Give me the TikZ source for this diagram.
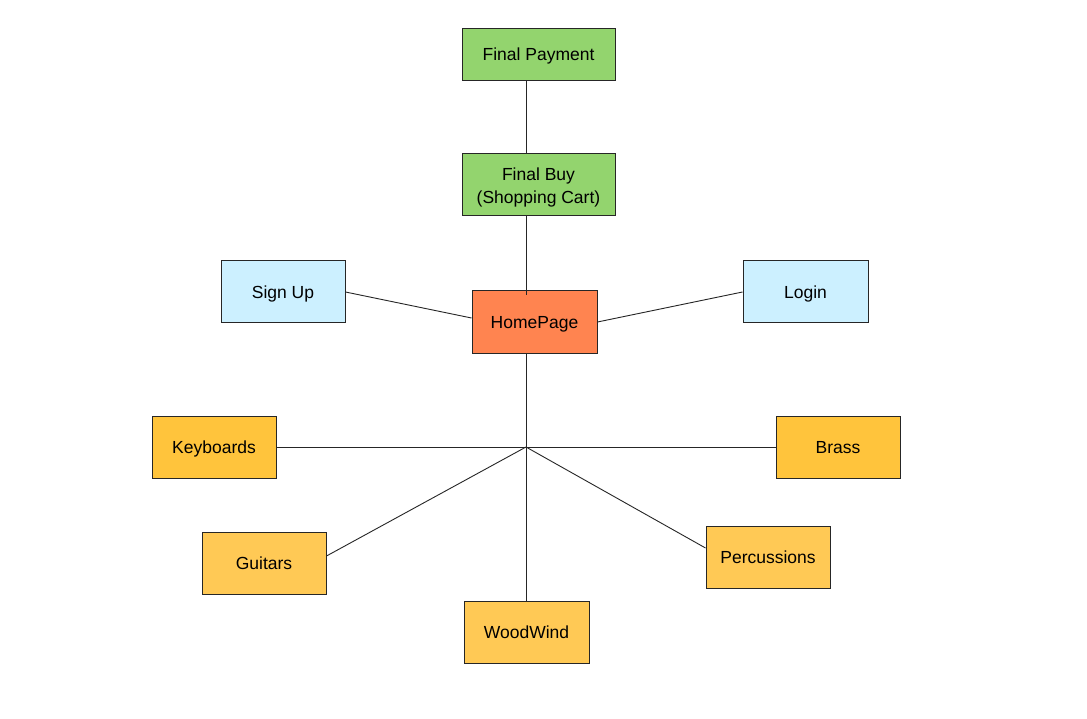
\documentclass[tikz,border=0pt]{standalone}
\usepackage{fontspec}
\setmainfont{Liberation Sans}
\newcommand{\lbl}[1]{\raisebox{-6pt}[0pt][0pt]{#1}}
\begin{document}
\begin{tikzpicture}[x=1pt,y=-1pt,
  box/.style={draw=black!85,line width=1pt,rectangle,inner sep=0pt,minimum width=124pt,minimum height=62pt,font=\fontsize{17.5}{23}\selectfont,align=center},
  green/.style={box,fill=greenc,minimum width=153pt},
  blue/.style={box,fill=bluec},
  orange/.style={box,fill=orangec},
  yellowa/.style={box,fill=yellowc},
  yellowb/.style={box,fill=yellowd},
  link/.style={draw=black!85,line width=0.9pt}]
\definecolor{greenc}{HTML}{93D46E}
\definecolor{bluec}{HTML}{CCF0FF}
\definecolor{orangec}{HTML}{FF8450}
\definecolor{yellowc}{HTML}{FFC43C}
\definecolor{yellowd}{HTML}{FFC955}
\useasboundingbox[fill=white] (0,0) rectangle (1087,719);
\node[green,minimum height=52pt] (fp) at (538.5,55) {\lbl{Final Payment}};
\node[green] (fb) at (538.5,185) {\raisebox{4pt}[0pt][0pt]{\begin{tabular}[t]{@{}c@{}}Final Buy\\(Shopping Cart)\end{tabular}}};
\node[blue] (su) at (283,292) {\lbl{Sign Up}};
\node[orange,minimum width=125pt] (home) at (534.5,322) {\lbl{HomePage}};
\node[blue,minimum width=125pt] (lo) at (805.5,292) {\lbl{Login}};
\node[yellowa] (kb) at (214,447) {\lbl{Keyboards}};
\node[yellowa] (br) at (838,447) {\lbl{Brass}};
\node[yellowb] (gu) at (264,563) {\lbl{Guitars}};
\node[yellowb] (pe) at (768,557) {\lbl{Percussions}};
\node[yellowb,minimum width=125pt] (ww) at (526.5,632) {\lbl{WoodWind}};
\coordinate (hub) at (526,447);
\coordinate (h1) at (526,295);
\draw[link] (hub |- fp.south) -- (hub |- fb.north);
\draw[link] (hub |- fb.south) -- (h1);
\draw[link] (hub |- home.south) -- (hub);
\draw[link] (su.east) -- ([yshift=4pt]home.west);
\draw[link] (lo.west) -- (home.east);
\draw[link] (kb.east) -- (hub);
\draw[link] (br.west) -- (hub);
\draw[link] ([yshift=7pt]gu.east) -- (hub);
\draw[link] ([yshift=9pt]pe.west) -- (hub);
\draw[link] (hub |- ww.north) -- (hub);
\end{tikzpicture}
\end{document}
